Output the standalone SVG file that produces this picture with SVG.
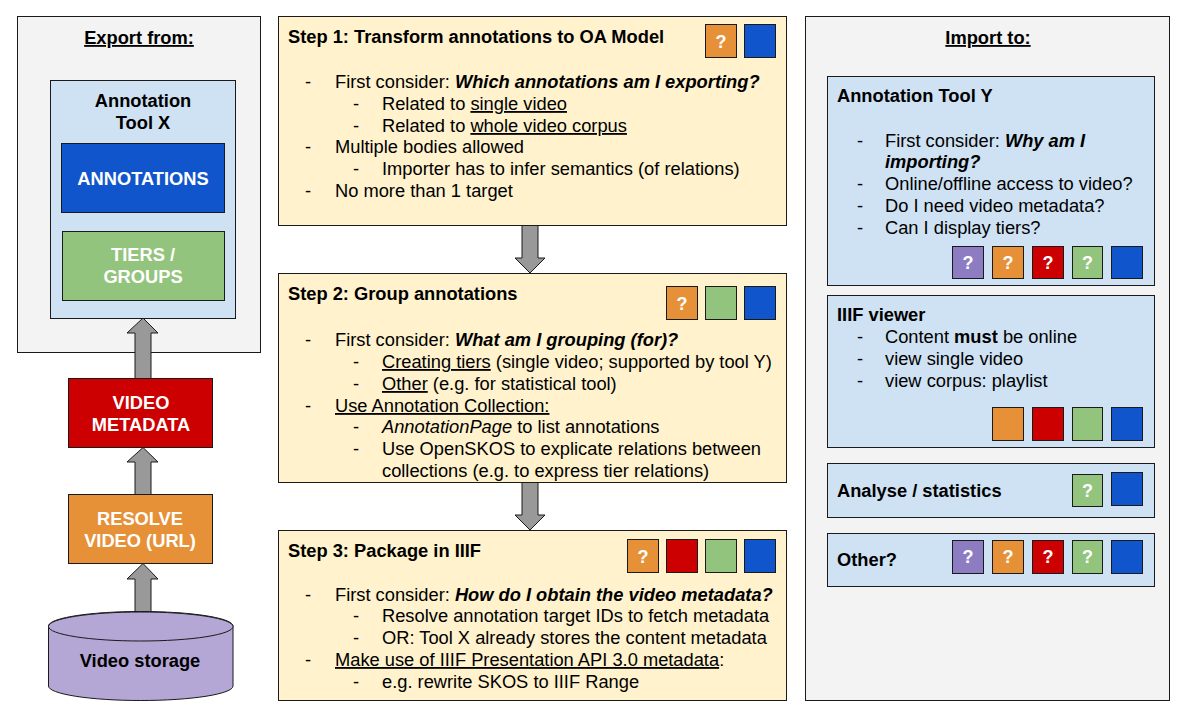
<svg xmlns="http://www.w3.org/2000/svg" width="1178" height="720" viewBox="0 0 1178 720">
<style>
text{font-family:"Liberation Sans",Arial,sans-serif;font-size:18.3px;fill:#000}
.b{font-weight:bold}
.bi{font-weight:bold;font-style:italic}
.i{font-style:italic}
.u{text-decoration:underline}
.w{fill:#fff;font-weight:bold}
.c{text-anchor:middle}
.q{fill:#fff;font-weight:bold;text-anchor:middle;font-size:18px}
.bx{stroke:#1a1a1a;stroke-width:1}
.gray{fill:#f3f3f3}
.lb{fill:#cfe2f3}
.yl{fill:#fff2cc}
.or{fill:#e69138}
.bl{fill:#1155cc}
.gr{fill:#93c47d}
.rd{fill:#cc0000}
.pu{fill:#8e7cc3}
.lpu{fill:#b4a7d6}
.arr{fill:#999999;stroke:#1a1a1a;stroke-width:1}
</style>
<rect width="1178" height="720" fill="#fff"/>

<g id="export-panel">
<rect class="bx gray" x="17.5" y="16.5" width="243" height="336"/>
<text class="b u c" x="139" y="44">Export from:</text>
</g>
<g id="tool-x">
<rect class="bx lb" x="50.5" y="80.5" width="185" height="238"/>
<text class="b c" x="143" y="107">Annotation</text>
<text class="b c" x="143" y="129">Tool X</text>
</g>
<g id="annotations">
<rect class="bx bl" x="61.5" y="143.5" width="163" height="69"/>
<text class="w c" x="143" y="185">ANNOTATIONS</text>
</g>
<g id="tiers">
<rect class="bx gr" x="62.5" y="231.5" width="162" height="69"/>
<text class="w c" x="143" y="261">TIERS /</text>
<text class="w c" x="143" y="283">GROUPS</text>
</g>
<g id="video-metadata">
<rect class="bx rd" x="68.5" y="378.5" width="144" height="69"/>
<text class="w c" x="141" y="409">VIDEO</text>
<text class="w c" x="141" y="431">METADATA</text>
</g>
<g id="resolve-video">
<rect class="bx or" x="68.5" y="494.5" width="144" height="69"/>
<text class="w c" x="140" y="525">RESOLVE</text>
<text class="w c" x="140" y="547">VIDEO (URL)</text>
</g>

<g id="connectors">
<path class="arr" d="M143,318 L158,333 L151,333 L151,378.5 L135,378.5 L135,333 L127,333 Z"/>
<path class="arr" d="M143,447.5 L158,462 L151,462 L151,494.5 L135,494.5 L135,462 L127,462 Z"/>
<path class="arr" d="M143,563.5 L158,579 L151,579 L151,613 L135,613 L135,579 L127,579 Z"/>
<path class="arr" d="M522,225 L538,225 L538,258 L545,258 L530,273 L515,258 L522,258 Z"/>
<path class="arr" d="M522,482 L538,482 L538,515 L545,515 L530,530 L515,515 L522,515 Z"/>
</g>

<g id="video-storage">
<path class="bx lpu" d="M48.5,626 L48.5,686 A92.25,14.5 0 0 0 233,686 L233,626 A92.25,14.5 0 0 0 48.5,626 Z"/>
<ellipse class="bx lpu" cx="140.75" cy="626.5" rx="92.25" ry="14.5"/>
<text class="b c" x="140" y="667">Video storage</text>
</g>

<g id="step1">
<rect class="bx yl" x="278.5" y="16.5" width="508" height="209"/>
<text class="b" x="288" y="43">Step 1: Transform annotations to OA Model</text>
<rect class="bx or" x="705.5" y="24.5" width="31" height="33"/>
<text class="q" x="721" y="48">?</text>
<rect class="bx bl" x="744.5" y="24.5" width="31" height="33"/>
<text x="305" y="88">-</text><text x="335" y="88">First consider: <tspan class="bi">Which annotations am I exporting?</tspan></text>
<text x="353" y="110">-</text><text x="382" y="110">Related to <tspan class="u">single video</tspan></text>
<text x="353" y="132">-</text><text x="382" y="132">Related to <tspan class="u">whole video corpus</tspan></text>
<text x="305" y="153">-</text><text x="335" y="153">Multiple bodies allowed</text>
<text x="353" y="175">-</text><text x="382" y="175">Importer has to infer semantics (of relations)</text>
<text x="305" y="197">-</text><text x="335" y="197">No more than 1 target</text>
</g>

<g id="step2">
<rect class="bx yl" x="278.5" y="273.5" width="508" height="209"/>
<text class="b" x="288" y="300">Step 2: Group annotations</text>
<rect class="bx or" x="666.5" y="286.5" width="31" height="33"/>
<text class="q" x="682" y="310">?</text>
<rect class="bx gr" x="705.5" y="286.5" width="31" height="33"/>
<rect class="bx bl" x="744.5" y="286.5" width="31" height="33"/>
<text x="305" y="346">-</text><text x="335" y="346">First consider: <tspan class="bi">What am I grouping (for)?</tspan></text>
<text x="353" y="368">-</text><text x="382" y="368"><tspan class="u">Creating tiers</tspan> (single video; supported by tool Y)</text>
<text x="353" y="390">-</text><text x="382" y="390"><tspan class="u">Other</tspan> (e.g. for statistical tool)</text>
<text x="305" y="412">-</text><text x="335" y="412"><tspan class="u">Use Annotation Collection:</tspan></text>
<text x="353" y="433">-</text><text x="382" y="433"><tspan class="i">AnnotationPage</tspan> to list annotations</text>
<text x="353" y="455">-</text><text x="382" y="455">Use OpenSKOS to explicate relations between</text>
<text x="382" y="477">collections (e.g. to express tier relations)</text>
</g>

<g id="step3">
<rect class="bx yl" x="278.5" y="530.5" width="508" height="170"/>
<text class="b" x="288" y="557">Step 3: Package in IIIF</text>
<rect class="bx or" x="627.5" y="539.5" width="31" height="33"/>
<text class="q" x="643" y="563">?</text>
<rect class="bx rd" x="666.5" y="539.5" width="31" height="33"/>
<rect class="bx gr" x="705.5" y="539.5" width="31" height="33"/>
<rect class="bx bl" x="744.5" y="539.5" width="31" height="33"/>
<text x="305" y="601">-</text><text x="335" y="601">First consider: <tspan class="bi">How do I obtain the video metadata?</tspan></text>
<text x="353" y="622">-</text><text x="382" y="622">Resolve annotation target IDs to fetch metadata</text>
<text x="353" y="644">-</text><text x="382" y="644">OR: Tool X already stores the content metadata</text>
<text x="305" y="666">-</text><text x="335" y="666"><tspan class="u">Make use of IIIF Presentation API 3.0 metadata</tspan>:</text>
<text x="353" y="688">-</text><text x="382" y="688">e.g. rewrite SKOS to IIIF Range</text>
</g>

<g id="import-panel">
<rect class="bx gray" x="805.5" y="16.5" width="364" height="684"/>
<text class="b u c" x="988" y="44">Import to:</text>
</g>

<g id="tool-y">
<rect class="bx lb" x="827.5" y="76.5" width="327" height="209"/>
<text class="b" x="837" y="102">Annotation Tool Y</text>
<text x="857" y="147">-</text><text x="885" y="147">First consider: <tspan class="bi">Why am I</tspan></text>
<text class="bi" x="885" y="168">importing?</text>
<text x="857" y="190">-</text><text x="885" y="190">Online/offline access to video?</text>
<text x="857" y="212">-</text><text x="885" y="212">Do I need video metadata?</text>
<text x="857" y="234">-</text><text x="885" y="234">Can I display tiers?</text>
<rect class="bx pu" x="952.5" y="246.5" width="31" height="32"/><text class="q" x="968" y="269">?</text>
<rect class="bx or" x="992.5" y="246.5" width="31" height="32"/><text class="q" x="1008" y="269">?</text>
<rect class="bx rd" x="1032.5" y="246.5" width="31" height="32"/><text class="q" x="1048" y="269">?</text>
<rect class="bx gr" x="1072.5" y="246.5" width="30" height="32"/><text class="q" x="1087.5" y="269">?</text>
<rect class="bx bl" x="1111.5" y="246.5" width="31" height="32"/>
</g>

<g id="iiif-viewer">
<rect class="bx lb" x="827.5" y="295.5" width="327" height="152"/>
<text class="b" x="837" y="321">IIIF viewer</text>
<text x="857" y="343">-</text><text x="885" y="343">Content <tspan class="b">must</tspan> be online</text>
<text x="857" y="365">-</text><text x="885" y="365">view single video</text>
<text x="857" y="387">-</text><text x="885" y="387">view corpus: playlist</text>
<rect class="bx or" x="992.5" y="407.5" width="31" height="33"/>
<rect class="bx rd" x="1032.5" y="407.5" width="31" height="33"/>
<rect class="bx gr" x="1072.5" y="407.5" width="30" height="33"/>
<rect class="bx bl" x="1111.5" y="407.5" width="31" height="33"/>
</g>

<g id="analyse">
<rect class="bx lb" x="827.5" y="463.5" width="327" height="54"/>
<text class="b" x="837" y="497">Analyse / statistics</text>
<rect class="bx gr" x="1072.5" y="474.5" width="30" height="32"/><text class="q" x="1087.5" y="497">?</text>
<rect class="bx bl" x="1111.5" y="472.5" width="31" height="33"/>
</g>

<g id="other">
<rect class="bx lb" x="827.5" y="533.5" width="327" height="53"/>
<text class="b" x="837" y="566">Other?</text>
<rect class="bx pu" x="952.5" y="540.5" width="31" height="33"/><text class="q" x="968" y="563">?</text>
<rect class="bx or" x="992.5" y="540.5" width="31" height="33"/><text class="q" x="1008" y="563">?</text>
<rect class="bx rd" x="1032.5" y="540.5" width="31" height="33"/><text class="q" x="1048" y="563">?</text>
<rect class="bx gr" x="1072.5" y="540.5" width="30" height="33"/><text class="q" x="1087.5" y="563">?</text>
<rect class="bx bl" x="1111.5" y="540.5" width="31" height="33"/>
</g>
</svg>
